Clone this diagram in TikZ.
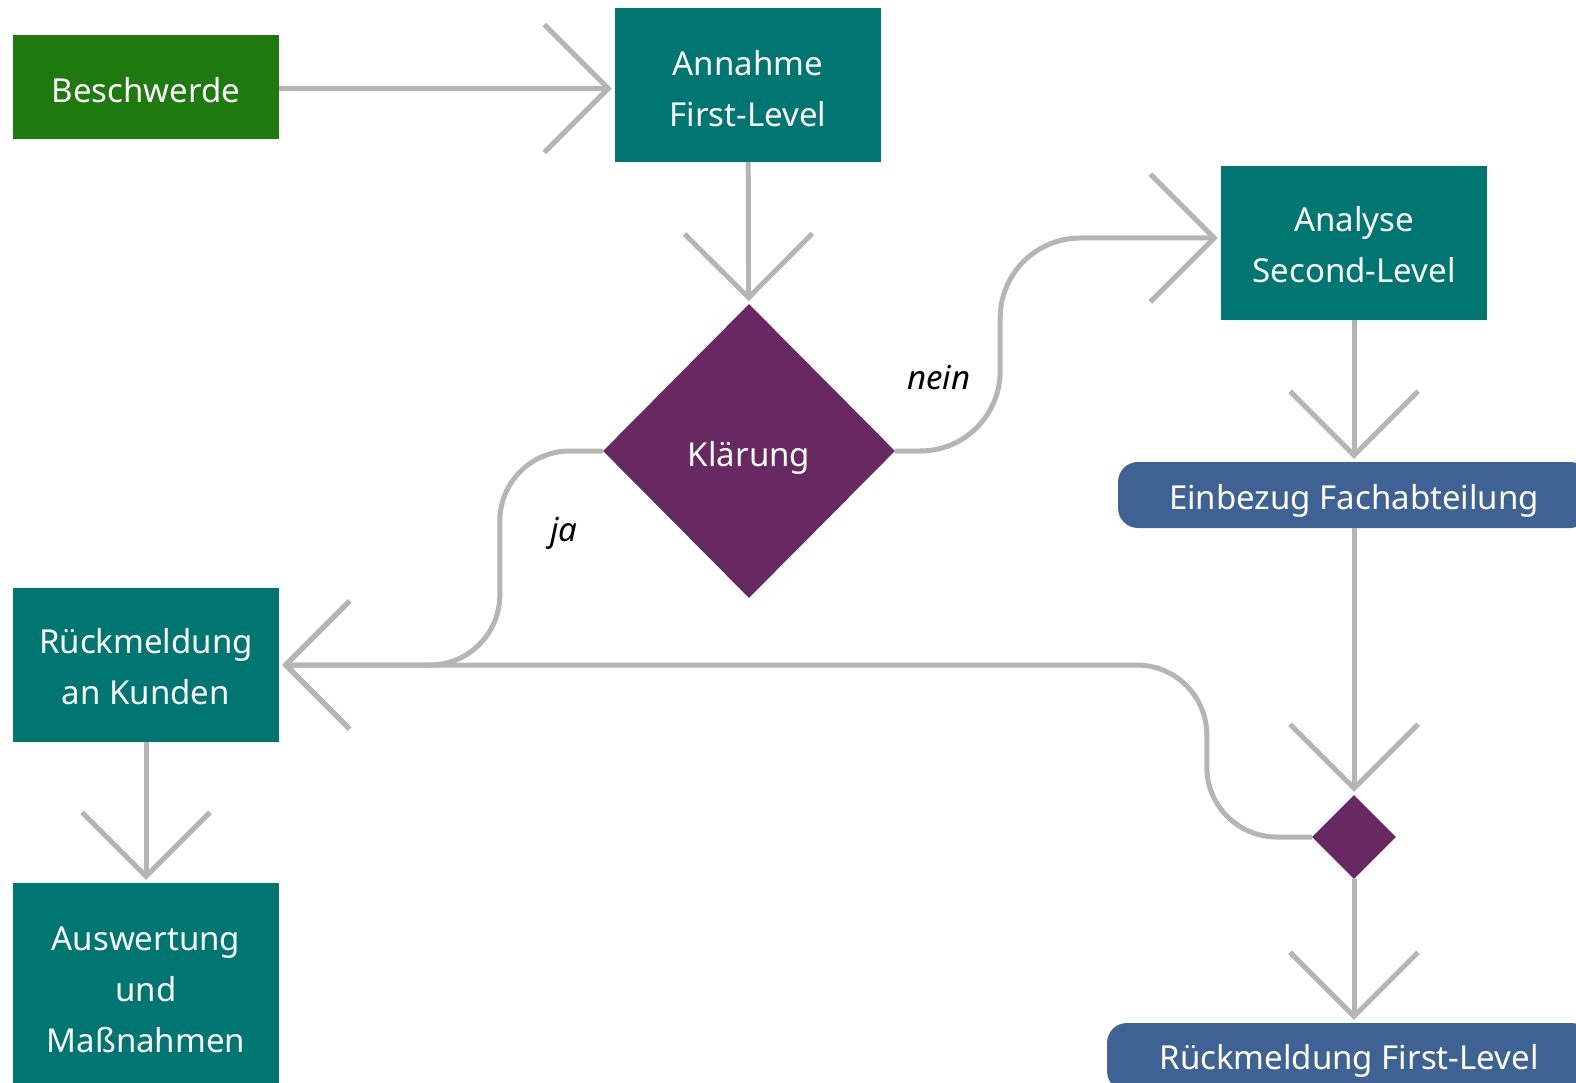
\documentclass[tikz,border=0pt]{standalone}
\usepackage{fontspec}
\setmainfont{Noto Sans}
\usetikzlibrary{arrows.meta,shapes.geometric}
\definecolor{teal1}{HTML}{007672}
\definecolor{green1}{HTML}{1E7A0E}
\definecolor{purple1}{HTML}{682862}
\definecolor{blue1}{HTML}{3E6294}
\definecolor{gray1}{HTML}{B5B5B5}
\newcommand\lowr[1]{\rule{0pt}{#1}}
\tikzset{
  box/.style={rectangle, fill=teal1, text=white, inner sep=0pt, minimum width=266pt, minimum height=154pt, align=center, font=\fontsize{33}{51}\selectfont},
  pill/.style={rectangle, rounded corners=20pt, fill=blue1, text=white, inner sep=0pt, align=center, font=\fontsize{33}{51}\selectfont},
  conn/.style={draw=gray1, line width=5pt, -{Straight Barb[length=64pt,width=128pt,line cap=butt]}, shorten >=3pt},
  lab/.style={font=\fontsize{33}{40}\selectfont\itshape, text=black}
}
\begin{document}
\begin{tikzpicture}[x=1pt,y=-1pt]
\clip (0,0) rectangle (1576,1083);
\node[box, fill=green1, minimum height=104pt] (B) at (146,87) {\lowr{31pt}Beschwerde};
\node[box] (A) at (748,85) {\lowr{32pt}Annahme\\First-Level};
\node[diamond, fill=purple1, text=white, inner sep=0pt, minimum width=292pt, minimum height=294pt, font=\fontsize{33}{51}\selectfont] (K) at (749,451) {\lowr{39pt}Klärung};
\node[box] (S) at (1354,243) {\lowr{28pt}Analyse\\Second-Level};
\node[pill, minimum width=472pt, minimum height=66pt] (E) at (1354,495) {\lowr{37pt}Einbezug Fachabteilung};
\node[box] (R) at (146,665) {\lowr{28pt}Rückmeldung\\an Kunden};
\node[box, minimum height=214pt] (W) at (146,990) {Auswertung\\und\\Maßnahmen};
\node[diamond, fill=purple1, inner sep=0pt, minimum width=84pt, minimum height=84pt] (D) at (1354,837) {};
\node[pill, minimum width=484pt, minimum height=68pt] (F) at (1349,1057) {\lowr{33pt}Rückmeldung First-Level};
\coordinate (Sin) at (S.west |- 0,238);
\coordinate (Bout) at (B.east |- 0,88.5);

\draw[conn] (Bout) -- (Bout -| A.west);
\draw[conn] (A) -- (K);
\draw[conn, rounded corners=80pt] (K.east) -- ++(105,0) |- (Sin);
\draw[conn, rounded corners=70pt] (K.west) -- ++(-103,0) |- (R.east);
\draw[conn] (S) -- (E);
\draw[conn] (E) -- (D);
\draw[conn, rounded corners=70pt] (D.west) -- ++(-105,0) |- (R.east);
\draw[conn] (D) -- (D |- F.north);
\draw[conn] (R) -- (W);

\node[lab] (n) at (939,378) {nein};
\node[lab] (j) at (564,533) {ja};
\end{tikzpicture}
\end{document}
